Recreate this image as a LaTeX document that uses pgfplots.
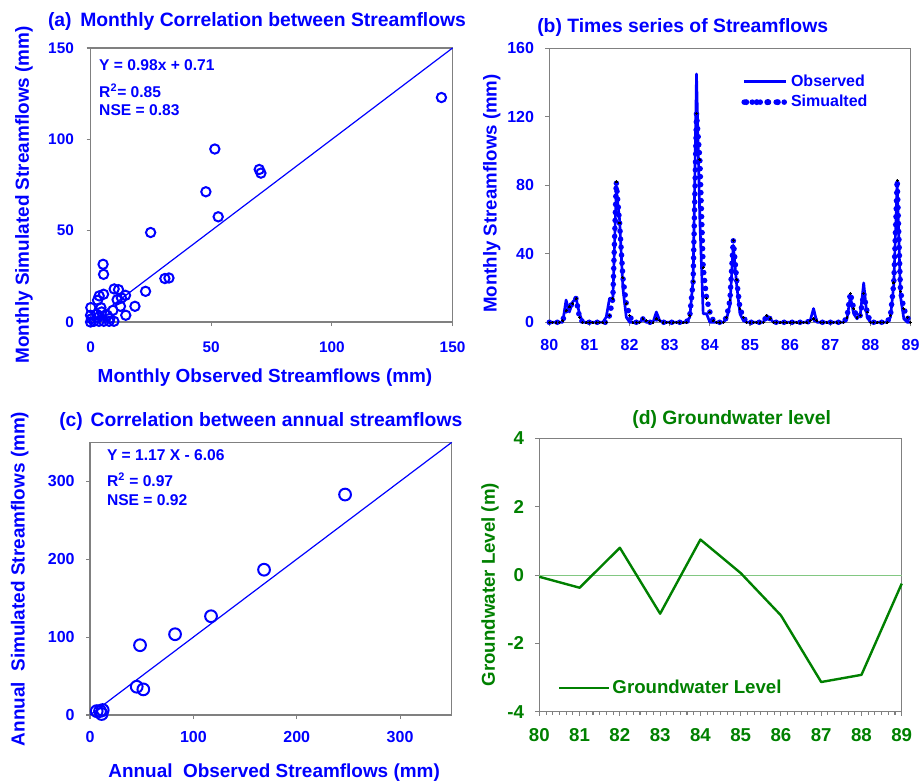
\documentclass[border=0pt]{standalone}
\usepackage{fontspec}
\setmainfont{Liberation Sans}
\usepackage{pgfplots}
\usepackage{pgfplotstable}
\pgfplotsset{compat=1.18}

\definecolor{mblue}{RGB}{0,0,255}
\definecolor{mgreen}{RGB}{0,128,0}
\definecolor{zgreen}{RGB}{130,200,130}
\definecolor{framegray}{RGB}{128,128,128}

\newcommand{\fs}[1]{\fontsize{#1}{#1}\selectfont\bfseries}

% monthly streamflows (mm)
\pgfplotstableread{
obs    sim
145.4  122.9
51.5   94.7
69.9   83.5
70.6   81.5
47.8   71.3
52.9   57.6
24.9   49.0
5.2    31.6
5.4    26.1
30.8   23.8
32.5   24.1
22.8   16.8
18.4   8.6
14.6   3.7
14.5   14.6
9.8    18.1
11.6   17.7
11.0   12.2
12.8   13.2
12.4   8.6
9.3    6.4
5.4    15.2
3.6    14.3
2.9    11.9
0.1    7.9
4.3    7.9
2.5    4.2
0.0    3.7
0.4    1.8
0.0    0.0
4.6    5.5
6.9    3.7
3.5    0.4
5.5    0.4
7.7    0.4
9.7    0.4
1.4    0.4
8.0    2.0
3.0    2.5
}\monthly

% annual streamflows (mm)
\pgfplotstableread{
obs    sim
246.8  283.0
168.4  186.5
117.1  126.8
82.3   103.7
48.4   89.6
45.2   36.3
51.6   32.9
9.7    5.1
6.5    5.0
12.3   6.4
11.3   1.3
}\annual

% monthly time series, 1980-1989
\pgfplotstableread{
t       obs   sim
80.000  0     0
80.083  0     0
80.167  0     0
80.250  0     0
80.333  0     1
80.417  13    7
80.500  6     9
80.583  12    11
80.667  14    14
80.750  5     3
80.833  0     0
80.917  0     0
81.000  0     0
81.083  0     0
81.167  0     0
81.250  0     0
81.333  0     0
81.417  3     0
81.500  14    4
81.583  14    14
81.667  78    82
81.750  60    58
81.833  20    26
81.917  3     11
82.000  0     4
82.083  0     0
82.167  0     0
82.250  0     0
82.333  2     2
82.417  0     1
82.500  0     0
82.583  0     0
82.667  6     2
82.750  1     1
82.833  0     0
82.917  0     0
83.000  0     0
83.083  0     0
83.167  0     0
83.250  0     0
83.333  0     0
83.417  0     0
83.500  3     4
83.583  25    24
83.667  145   122
83.750  60    95
83.833  5     32
83.917  5     14
84.000  0     6
84.083  0     1
84.167  0     0
84.250  0     0
84.333  0     0
84.417  2     3
84.500  10    13
84.583  45    48
84.667  22    25
84.750  5     8
84.833  1     3
84.917  0     0
85.000  0     0
85.083  0     0
85.167  0     0
85.250  0     0
85.333  0     0
85.417  4     4
85.500  2     2
85.583  0     0
85.667  0     0
85.750  0     0
85.833  0     0
85.917  0     0
86.000  0     0
86.083  0     0
86.167  0     0
86.250  0     0
86.333  0     0
86.417  0     0
86.500  1     1
86.583  8     2
86.667  0     1
86.750  0     0
86.833  0     0
86.917  0     0
87.000  0     0
87.083  0     0
87.167  0     0
87.250  0     0
87.333  0     0
87.417  2     3
87.500  15    17
87.583  5     8
87.667  2     3
87.750  5     4
87.833  23    17
87.917  3     6
88.000  0     0
88.083  0     0
88.167  0     0
88.250  0     0
88.333  0     0
88.417  0     0
88.500  3     4
88.583  22    23
88.667  82    83
88.750  15    18
88.833  2     8
88.917  0     3
89.000  0     0
}\flows

\pgfplotsset{
  panel/.style={
    scale only axis,
    anchor=south west,
    axis line style={framegray, line width=0.8pt},
    tick style={framegray, line width=0.8pt},
    major tick length=3pt,
    minor tick length=2.2pt,
    tick align=outside,
    tick pos=left,
    /pgf/number format/assume math mode=true,
    clip=false,
  },
}
\tikzset{
  note/.style={anchor=base west, inner sep=0pt, font=\fs{11.7}, text=mblue},
  ptitle/.style={inner sep=0pt, font=\fs{14.5}},
}

\begin{document}
\begin{tikzpicture}
\useasboundingbox (0pt,0pt) rectangle (693pt,-587.25pt);

% (a) monthly scatter
\begin{axis}[panel, at={(67.9pt,-241.5pt)}, width=271.5pt, height=205.5pt,
  xmin=0, xmax=150, ymin=0, ymax=150,
  xtick={0,50,100,150}, ytick={0,50,100,150},
  ticklabel style={font=\fs{11.5}, text=mblue},
  xticklabel style={yshift=-8pt}, yticklabel style={xshift=-6pt},
  xlabel={Monthly Observed Streamflows (mm)},
  ylabel={Monthly Simulated Streamflows (mm)},
  label style={font=\fs{14.2}, text=mblue},
  xlabel style={at={(axis description cs:0.482,-0.204)}, anchor=center},
  ylabel style={at={(axis description cs:-0.184,0.464)}, anchor=center},
]
\addplot[mblue, line width=0.9pt] coordinates {(0,0) (150,150)};
\addplot[only marks, mark=o, mark size=3.5pt, mblue, mark options={line width=1.5pt}]
  table[x=obs, y=sim] {\monthly};
\node[note] at (axis cs:3.5,137.9) {Y = 0.98x + 0.71};
\node[note] at (axis cs:3.5,122.8) {R\textsuperscript{2}= 0.85};
\node[note] at (axis cs:3.5,112.8) {NSE = 0.83};
\end{axis}

% (b) time series
\begin{axis}[panel, at={(412pt,-241.7pt)}, width=270.9pt, height=205.5pt,
  xmin=80, xmax=89, ymin=0, ymax=160,
  xtick={80,81,...,89}, ytick={0,40,...,160},
  ticklabel style={font=\fs{12}, text=mblue},
  xticklabel style={yshift=-6pt}, yticklabel style={xshift=-5pt},
  ylabel={Monthly Streamflows (mm)},
  label style={font=\fs{14}, text=mblue},
  ylabel style={at={(axis description cs:-0.159,0.470)}, anchor=center},
  legend style={draw=none, fill=none, at={(0.52,0.925)}, anchor=north west,
    font=\fs{12}, text=mblue, row sep=1.5pt},
  legend cell align=left,
]
\addplot[mblue, line width=2pt, line join=round,
  legend image code/.code={
    \draw[mblue, line width=2pt] (0pt,0pt) -- (27.5pt,0pt);
    \path (0pt,0pt) -- (31pt,0pt);}]
  table[x=t, y=obs] {\flows};
\addlegendentry{Observed}
\addplot[mblue, line width=4.2pt, line cap=round, dash pattern=on 0pt off 6pt,
  mark=*, mark size=0.7pt, mark options={solid, black, line width=0pt},
  legend image code/.code={
    \draw[mblue, line width=4.5pt, line cap=round, dash pattern=on 0pt off 7.9pt]
      (1.5pt,0pt) -- (27.5pt,0pt);
    \fill[black] (17.3pt,0pt) circle (0.8pt);
    \path (0pt,0pt) -- (31pt,0pt);}]
  table[x=t, y=sim] {\flows};
\addlegendentry{Simualted}
\end{axis}

% (c) annual scatter
\begin{axis}[panel, at={(67.5pt,-536.25pt)}, width=271.3pt, height=204.5pt,
  xmin=0, xmax=350, ymin=0, ymax=350,
  xtick={0,100,200,300}, ytick={0,100,200,300},
  ticklabel style={font=\fs{12}, text=mblue},
  xticklabel style={yshift=-6pt}, yticklabel style={xshift=-5pt},
  xlabel={Annual\ \ Observed Streamflows (mm)},
  ylabel={Annual\ \ Simulated Streamflows (mm)},
  label style={font=\fs{14.2}, text=mblue},
  xlabel style={at={(axis description cs:0.509,-0.213)}, anchor=center},
  ylabel style={at={(axis description cs:-0.194,0.499)}, anchor=center},
]
\addplot[mblue, line width=0.9pt] coordinates {(0,0) (350,350)};
\addplot[only marks, mark=o, mark size=4.4pt, mblue, mark options={line width=1.5pt}]
  table[x=obs, y=sim] {\annual};
\node[note] at (axis cs:16.2,326.4) {Y = 1.17 X - 6.06};
\node[note] at (axis cs:16.2,293) {R\textsuperscript{2} = 0.97};
\node[note] at (axis cs:16.2,269.5) {NSE = 0.92};
\end{axis}

% (d) groundwater level
\begin{axis}[panel, at={(404.5pt,-533.8pt)}, width=271.8pt, height=205pt,
  xmin=80, xmax=89, ymin=-4, ymax=4,
  xtick={80,81,...,89}, ytick={-4,-2,0,2,4},
  minor x tick num=5,
  ticklabel style={font=\fs{14}, text=mgreen},
  xticklabel style={yshift=-6pt}, yticklabel style={xshift=-5pt},
  ylabel={Groundwater Level (m)},
  label style={font=\fs{14}, text=mgreen},
  ylabel style={at={(axis description cs:-0.136,0.465)}, anchor=center},
  legend style={draw=none, fill=none, at={(0.04,0.087)}, anchor=west,
    font=\fs{14}, text=mgreen},
  legend cell align=left,
  legend image code/.code={\draw[#1] (0pt,0pt) -- (32pt,0pt);
    \path (0pt,0pt) -- (37pt,0pt);},
]
\addplot[zgreen, line width=0.8pt, forget plot] coordinates {(80,0) (89,0)};
\addplot[mgreen, line width=1.8pt, line join=round] coordinates {
  (80,-0.05) (81,-0.37) (82,0.80) (83,-1.13) (84,1.04)
  (85,0.06) (86,-1.18) (87,-3.13) (88,-2.92) (89,-0.25)};
\addlegendentry{Groundwater Level}
\end{axis}

% panel titles
\node[ptitle, anchor=base west, text=mblue]
  at (35.8pt,-20pt) {(a)\hspace{0.45em}Monthly Correlation between Streamflows};
\node[ptitle, anchor=base west, text=mblue]
  at (402.75pt,-24.5pt) {(b) Times series of Streamflows};
\node[ptitle, anchor=base west, text=mblue]
  at (44.25pt,-319.5pt) {(c)\hspace{0.4em}Correlation between annual streamflows};
\node[ptitle, anchor=base, text=mgreen]
  at (548.8pt,-318.2pt) {(d) Groundwater level};
\end{tikzpicture}
\end{document}
